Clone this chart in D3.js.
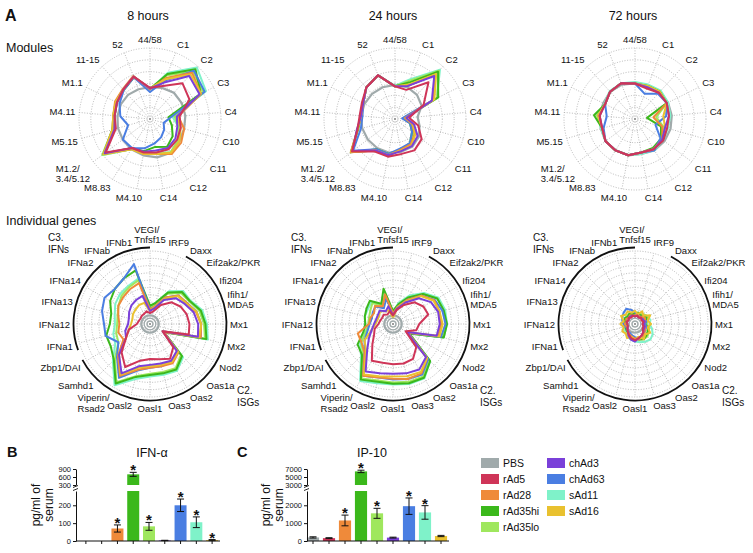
<!DOCTYPE html>
<html><head><meta charset="utf-8">
<script src="https://cdn.jsdelivr.net/npm/d3@7"></script>
<style>
body{margin:0;background:#fff;}
text{font-family:"Liberation Sans",Arial,Helvetica,sans-serif;fill:#111;}
</style></head><body>
<svg id="chart" width="753" height="553"></svg>
<script>
// ---------- DATA ----------
const seriesNames = ["PBS","rAd5","rAd28","rAd35hi","rAd35lo","chAd3","chAd63","sAd11","sAd16"];
const seriesColors = ["#a0aaab","#cf3558","#ef8a3a","#3bb81b","#9fe75e","#7a40d9","#4a7ee2","#7ff2c9","#e9c12f"];
const timepoints = ["8 hours","24 hours","72 hours"];
const moduleAxes = ["44/58","C1","C2","C3","C4","C10","C11","C12","C14","M4.10","M8.83","M1.2/\n3.4/5.12","M5.15","M4.11","M1.1","11-15","52"];
const geneAxes = ["VEGI/\nTnfsf15","IRF9","Daxx","Eif2ak2/PKR","Ifi204","Ifih1/\nMDA5","Mx1","Mx2","Nod2","Oas1a","Oas2","Oas3","Oasl1","Oasl2","Viperin/\nRsad2","Samhd1","Zbp1/DAI","IFNa1","IFNa12","IFNa13","IFNa14","IFNa2","IFNab","IFNb1"];

// module scores (fraction of outer ring), rows in seriesNames order
const modules8h = [
 [0.45,0.47,0.50,0.50,0.50,0.50,0.52,0.56,0.55,0.52,0.50,0.48,0.47,0.46,0.46,0.46,0.45],
 [0.44,0.50,0.68,0.62,0.42,0.45,0.48,0.50,0.48,0.48,0.48,0.78,0.50,0.50,0.52,0.56,0.64],
 [0.42,0.62,0.88,0.80,0.40,0.50,0.55,0.58,0.50,0.50,0.50,0.82,0.55,0.52,0.55,0.57,0.65],
 [0.42,0.68,0.95,0.80,0.26,0.32,0.40,0.46,0.40,0.46,0.48,0.82,0.55,0.50,0.52,0.55,0.63],
 [0.43,0.66,0.90,0.84,0.35,0.42,0.50,0.55,0.50,0.50,0.50,0.84,0.55,0.52,0.54,0.56,0.64],
 [0.43,0.55,0.82,0.78,0.38,0.40,0.45,0.48,0.45,0.47,0.48,0.80,0.52,0.50,0.52,0.56,0.64],
 [0.38,0.58,0.92,0.86,0.30,0.20,0.25,0.30,0.35,0.42,0.48,0.48,0.32,0.42,0.48,0.55,0.63],
 [0.42,0.70,0.98,0.88,0.32,0.42,0.50,0.55,0.48,0.48,0.50,0.84,0.55,0.52,0.54,0.56,0.64],
 [0.43,0.60,0.85,0.80,0.38,0.45,0.52,0.56,0.50,0.50,0.50,0.82,0.55,0.52,0.54,0.56,0.64]
];
const modules24h = [
 [0.48,0.48,0.46,0.42,0.32,0.36,0.42,0.46,0.47,0.48,0.48,0.48,0.48,0.48,0.48,0.48,0.48],
 [0.46,0.44,0.70,0.45,0.20,0.34,0.47,0.52,0.50,0.54,0.54,0.76,0.55,0.50,0.52,0.60,0.66],
 [0.46,0.50,0.85,0.60,0.14,0.25,0.35,0.42,0.44,0.52,0.52,0.78,0.55,0.48,0.50,0.60,0.66],
 [0.46,0.55,0.90,0.68,0.12,0.22,0.30,0.40,0.44,0.50,0.50,0.78,0.54,0.48,0.50,0.60,0.66],
 [0.46,0.58,0.92,0.66,0.14,0.24,0.32,0.42,0.44,0.52,0.52,0.77,0.55,0.48,0.50,0.60,0.66],
 [0.46,0.50,0.82,0.58,0.16,0.28,0.40,0.45,0.46,0.52,0.52,0.75,0.56,0.48,0.50,0.60,0.66],
 [0.46,0.50,0.84,0.60,0.10,0.22,0.30,0.40,0.42,0.50,0.50,0.74,0.50,0.46,0.50,0.60,0.66],
 [0.47,0.60,0.94,0.66,0.13,0.24,0.32,0.42,0.44,0.52,0.52,0.77,0.55,0.48,0.50,0.60,0.66],
 [0.46,0.52,0.86,0.62,0.15,0.26,0.36,0.44,0.45,0.52,0.52,0.77,0.55,0.48,0.50,0.60,0.66]
];
const modules72h = [
 [0.50,0.50,0.52,0.52,0.52,0.52,0.52,0.52,0.50,0.52,0.52,0.52,0.50,0.50,0.50,0.52,0.52],
 [0.50,0.46,0.50,0.50,0.48,0.47,0.50,0.50,0.48,0.52,0.52,0.52,0.48,0.50,0.47,0.52,0.54],
 [0.50,0.48,0.50,0.50,0.26,0.40,0.48,0.50,0.48,0.52,0.52,0.52,0.48,0.52,0.47,0.52,0.54],
 [0.50,0.50,0.52,0.50,0.17,0.38,0.46,0.48,0.48,0.52,0.52,0.52,0.48,0.58,0.47,0.52,0.54],
 [0.50,0.50,0.52,0.50,0.30,0.42,0.48,0.50,0.48,0.52,0.52,0.52,0.48,0.54,0.47,0.52,0.54],
 [0.50,0.48,0.50,0.50,0.48,0.44,0.48,0.50,0.48,0.52,0.52,0.52,0.48,0.50,0.47,0.52,0.54],
 [0.50,0.38,0.48,0.50,0.44,0.30,0.45,0.52,0.48,0.52,0.52,0.52,0.46,0.40,0.47,0.52,0.54],
 [0.52,0.52,0.54,0.52,0.50,0.48,0.50,0.52,0.50,0.52,0.52,0.52,0.50,0.52,0.48,0.53,0.54],
 [0.50,0.50,0.52,0.50,0.40,0.44,0.48,0.50,0.48,0.52,0.52,0.52,0.48,0.52,0.47,0.52,0.54]
];
// individual gene scores
const genes8h = [
 [0.12,0.12,0.12,0.12,0.12,0.12,0.12,0.12,0.12,0.12,0.12,0.12,0.12,0.12,0.12,0.12,0.12,0.12,0.12,0.12,0.12,0.12,0.12,0.12],
 [0.15,0.18,0.30,0.42,0.48,0.52,0.54,0.55,0.20,0.45,0.55,0.50,0.48,0.52,0.68,0.55,0.38,0.30,0.18,0.16,0.15,0.16,0.16,0.18],
 [0.20,0.25,0.42,0.55,0.58,0.65,0.70,0.72,0.22,0.55,0.62,0.60,0.60,0.65,0.82,0.62,0.42,0.45,0.42,0.45,0.50,0.52,0.55,0.58],
 [0.25,0.30,0.50,0.62,0.63,0.72,0.76,0.80,0.22,0.62,0.72,0.70,0.70,0.75,0.94,0.70,0.62,0.62,0.55,0.55,0.63,0.68,0.72,0.76],
 [0.22,0.28,0.48,0.60,0.62,0.70,0.74,0.78,0.22,0.60,0.70,0.68,0.68,0.74,0.92,0.68,0.50,0.48,0.45,0.46,0.50,0.55,0.58,0.62],
 [0.18,0.22,0.38,0.50,0.55,0.62,0.66,0.68,0.20,0.52,0.58,0.56,0.56,0.60,0.78,0.60,0.38,0.35,0.30,0.30,0.33,0.36,0.38,0.40],
 [0.20,0.25,0.42,0.55,0.58,0.66,0.70,0.72,0.22,0.55,0.60,0.60,0.60,0.66,0.85,0.64,0.50,0.63,0.63,0.68,0.72,0.68,0.72,0.85],
 [0.24,0.30,0.52,0.64,0.64,0.74,0.78,0.82,0.22,0.64,0.74,0.72,0.72,0.78,0.97,0.72,0.55,0.52,0.48,0.50,0.55,0.58,0.60,0.64],
 [0.18,0.24,0.40,0.54,0.57,0.66,0.70,0.70,0.20,0.54,0.60,0.58,0.58,0.62,0.80,0.60,0.38,0.30,0.26,0.25,0.27,0.28,0.30,0.30]
];
const genes24h = [
 [0.12,0.12,0.12,0.12,0.12,0.12,0.12,0.12,0.12,0.12,0.12,0.12,0.12,0.12,0.12,0.12,0.12,0.12,0.12,0.12,0.12,0.12,0.12,0.12],
 [0.12,0.20,0.30,0.42,0.48,0.50,0.36,0.33,0.20,0.45,0.55,0.56,0.55,0.55,0.58,0.40,0.30,0.26,0.20,0.18,0.17,0.18,0.15,0.18],
 [0.15,0.24,0.38,0.55,0.65,0.66,0.66,0.64,0.24,0.66,0.78,0.78,0.75,0.76,0.82,0.55,0.50,0.50,0.33,0.32,0.30,0.35,0.28,0.42],
 [0.18,0.28,0.42,0.58,0.70,0.72,0.74,0.72,0.26,0.72,0.85,0.84,0.82,0.82,0.88,0.60,0.56,0.42,0.38,0.40,0.42,0.45,0.32,0.50],
 [0.16,0.27,0.42,0.58,0.70,0.72,0.72,0.70,0.25,0.70,0.83,0.82,0.80,0.80,0.86,0.58,0.50,0.38,0.34,0.34,0.36,0.40,0.30,0.42],
 [0.12,0.22,0.34,0.50,0.60,0.64,0.64,0.62,0.22,0.64,0.72,0.70,0.68,0.70,0.75,0.50,0.38,0.30,0.26,0.24,0.24,0.26,0.20,0.25],
 [0.14,0.24,0.38,0.55,0.66,0.70,0.72,0.68,0.24,0.68,0.80,0.78,0.76,0.76,0.82,0.55,0.45,0.36,0.32,0.30,0.32,0.34,0.25,0.36],
 [0.17,0.30,0.45,0.60,0.72,0.74,0.74,0.72,0.26,0.72,0.86,0.85,0.83,0.84,0.90,0.62,0.52,0.40,0.38,0.40,0.40,0.42,0.30,0.40],
 [0.08,0.24,0.36,0.54,0.64,0.66,0.68,0.66,0.22,0.66,0.76,0.74,0.72,0.74,0.80,0.52,0.45,0.30,0.24,0.22,0.22,0.25,0.20,0.20]
];
const genes72h = [
 [0.12,0.12,0.12,0.12,0.12,0.12,0.12,0.12,0.12,0.12,0.12,0.12,0.12,0.12,0.12,0.12,0.12,0.12,0.12,0.12,0.12,0.12,0.12,0.12],
 [0.10,0.12,0.10,0.12,0.10,0.12,0.10,0.12,0.12,0.16,0.18,0.20,0.22,0.20,0.17,0.14,0.12,0.10,0.10,0.12,0.10,0.12,0.10,0.12],
 [0.12,0.14,0.12,0.14,0.16,0.14,0.12,0.14,0.16,0.18,0.20,0.22,0.20,0.18,0.16,0.14,0.12,0.12,0.14,0.12,0.14,0.12,0.14,0.12],
 [0.14,0.16,0.14,0.16,0.18,0.16,0.14,0.18,0.20,0.22,0.24,0.22,0.20,0.18,0.16,0.15,0.14,0.14,0.12,0.14,0.16,0.14,0.16,0.14],
 [0.14,0.16,0.16,0.18,0.20,0.18,0.16,0.20,0.22,0.24,0.24,0.22,0.20,0.18,0.16,0.15,0.14,0.14,0.14,0.14,0.16,0.15,0.16,0.14],
 [0.10,0.12,0.10,0.12,0.12,0.14,0.12,0.14,0.14,0.16,0.18,0.20,0.24,0.22,0.18,0.14,0.12,0.10,0.10,0.12,0.10,0.12,0.12,0.12],
 [0.16,0.14,0.12,0.14,0.14,0.16,0.14,0.16,0.16,0.18,0.20,0.20,0.18,0.16,0.14,0.14,0.12,0.14,0.16,0.18,0.20,0.22,0.24,0.20],
 [0.14,0.16,0.16,0.18,0.20,0.22,0.20,0.24,0.28,0.30,0.28,0.26,0.24,0.22,0.20,0.18,0.16,0.14,0.14,0.14,0.16,0.16,0.16,0.14],
 [0.18,0.14,0.20,0.16,0.24,0.18,0.22,0.18,0.24,0.20,0.24,0.18,0.22,0.18,0.22,0.18,0.20,0.16,0.20,0.16,0.22,0.18,0.20,0.16]
];

// serum cytokines (pg/ml), mean and error
const ifnaValues = [0, 0, 70, 700, 82, 3, 200, 105, 5];
const ifnaErrors = [0, 0, 20, 75, 22, 1, 35, 30, 3];
const ifnaStars  = [false,false,true,true,true,false,true,true,true];
const ifnaLowTicks = [0,100,200];
const ifnaUpTicks = [300,600,900];
const ip10Values = [200, 160, 1150, 6400, 1550, 190, 1950, 1600, 280];
const ip10Errors = [35, 25, 300, 300, 280, 25, 460, 380, 35];
const ip10Stars  = [false,false,true,true,true,false,true,true,false];
const ip10LowTicks = [0,1000,2000];
const ip10UpTicks = [3000,5000,7000];

// ---------- DRAWING ----------
const svg = d3.select("#chart");
const drawOrder = [0,7,4,3,6,2,8,5,1];

function radar(cx, cy, R, axes, data, nRings, labelR, fs) {
  const n = axes.length;
  const ang = i => i * 2 * Math.PI / n;
  const r = d3.scaleLinear().domain([0, 1]).range([0, R]);
  const G = svg.append("g").attr("transform", `translate(${cx},${cy})`);
  G.selectAll("circle.ring").data(d3.range(1, nRings + 1).map(k => k / nRings)).join("circle")
    .attr("class","ring").attr("r", d => r(d)).attr("fill", "none")
    .attr("stroke", "#9c9c9c").attr("stroke-width", 0.7).attr("stroke-dasharray", "1,1.6");
  G.selectAll("line.spoke").data(axes).join("line").attr("class","spoke")
    .attr("x1", 0).attr("y1", 0)
    .attr("x2", (d, i) => R * Math.sin(ang(i))).attr("y2", (d, i) => -R * Math.cos(ang(i)))
    .attr("stroke", "#9c9c9c").attr("stroke-width", 0.7).attr("stroke-dasharray", "1,1.6");
  const line = d3.lineRadial().angle((d, i) => ang(i)).radius(d => r(d)).curve(d3.curveLinearClosed);
  drawOrder.forEach(si => {
    G.append("path").attr("d", line(data[si])).attr("fill", "none")
      .attr("stroke", seriesColors[si]).attr("stroke-width", si === 0 ? 2.2 : 2)
      .attr("stroke-linejoin", "round");
  });
  axes.forEach((lab, i) => {
    const a = ang(i), s = Math.sin(a), c = Math.cos(a);
    const px = labelR * s, py = -labelR * c;
    const t = G.append("text").attr("font-size", fs);
    lab.split("\n").forEach((ln, j) => t.append("tspan").attr("x", 0).attr("dy", j ? fs * 1.1 : 0).text(ln));
    const bb = t.node().getBBox();
    const fx = Math.max(-1, Math.min(1, s * 3)), fy = Math.max(-1, Math.min(1, c * 1.6));
    const bcx = px + fx * bb.width / 2, bcy = py - fy * (bb.height - 2) / 2;
    t.attr("transform", `translate(${bcx - (bb.x + bb.width / 2)},${bcy - (bb.y + bb.height / 2)})`);
  });
  return G;
}

function geneRadar(cx, cy, data) {
  const R = 73;
  const G = radar(cx, cy, R, geneAxes, data, 10, 80, 9.5);
  [0.04, 0.08].forEach(f => G.append("circle").attr("r", f * R).attr("fill", "none").attr("stroke", "#a0aaab").attr("stroke-width", 1.2));
  const arcR = 76.5;
  const deg = Math.PI / 180;
  [[28, 242], [250, 360]].forEach(([a0, a1]) => {
    const p = d3.path();
    p.arc(0, 0, arcR, (a0 - 90) * deg, (a1 - 90) * deg);
    G.append("path").attr("d", p.toString()).attr("fill", "none").attr("stroke", "#111").attr("stroke-width", 1.8);
  });
  const t3 = G.append("text").attr("font-size", 10);
  t3.append("tspan").attr("x", -102).attr("y", -83).text("C3.");
  t3.append("tspan").attr("x", -102).attr("y", -71).text("IFNs");
  const t2 = G.append("text").attr("font-size", 10);
  t2.append("tspan").attr("x", 87).attr("y", 70).text("C2.");
  t2.append("tspan").attr("x", 87).attr("y", 82).text("ISGs");
}

const colX = [150, 395, 635];
const moduleData = [modules8h, modules24h, modules72h];
const geneData = [genes8h, genes24h, genes72h];
timepoints.forEach((tp, k) => {
  svg.append("text").attr("x", colX[k] - 2).attr("y", 20).attr("text-anchor", "middle").attr("font-size", 12.5).text(tp);
  radar(colX[k], 119, 71, moduleAxes, moduleData[k], 6, 75, 9.5);
  geneRadar(colX[k] - (k === 1 ? 2 : 0), 324, geneData[k]);
});

svg.append("text").attr("x", 5).attr("y", 21).attr("font-size", 16).attr("font-weight", "bold").text("A");
svg.append("text").attr("x", 6).attr("y", 52).attr("font-size", 12.5).text("Modules");
svg.append("text").attr("x", 6).attr("y", 225).attr("font-size", 12.5).text("Individual genes");

// ---------- BAR CHARTS ----------
function barChart(o) {
  const G = svg.append("g");
  const x = d3.scaleBand().domain(seriesNames).range([o.x0, o.x1]).paddingInner(0.24).paddingOuter(0.12);
  const yLow = d3.scaleLinear().domain([0, o.lowMax]).range([541, 491]);
  const yUp = d3.scaleLinear().domain([o.upTicks[0], o.upTicks[o.upTicks.length - 1]]).range([485, 469]);
  const yOf = v => v <= o.lowMax ? yLow(v) : yUp(v);
  o.values.forEach((v, i) => {
    const bx = x(seriesNames[i]), bw = x.bandwidth();
    if (v <= o.lowMax) {
      G.append("rect").attr("x", bx).attr("width", bw).attr("y", yLow(v)).attr("height", 541 - yLow(v)).attr("fill", seriesColors[i]);
    } else {
      G.append("rect").attr("x", bx).attr("width", bw).attr("y", yLow(o.lowMax)).attr("height", 541 - yLow(o.lowMax)).attr("fill", seriesColors[i]);
      G.append("rect").attr("x", bx).attr("width", bw).attr("y", yUp(v)).attr("height", yUp(o.upTicks[0]) - yUp(v)).attr("fill", seriesColors[i]);
    }
    const e = o.errors[i];
    const cx = bx + bw / 2;
    if (e > 0 && v > 0) {
      const yt = yOf(v + e), yb = yOf(Math.max(0, v - e));
      G.append("line").attr("x1", cx).attr("x2", cx).attr("y1", yt).attr("y2", yb).attr("stroke", "#111").attr("stroke-width", 1);
      [yt, yb].forEach(yy => G.append("line").attr("x1", cx - 3.5).attr("x2", cx + 3.5).attr("y1", yy).attr("y2", yy).attr("stroke", "#111").attr("stroke-width", 1));
    }
    if (o.stars[i]) {
      G.append("text").attr("x", cx).attr("y", yOf(v + e) + 3).attr("text-anchor", "middle").attr("font-size", 15).attr("font-weight", "bold").text("*");
    }
  });
  const fmt = d3.format("d");
  const aLow = G.append("g").attr("transform", `translate(${o.axisX},0)`).call(d3.axisLeft(yLow).tickValues(o.lowTicks).tickFormat(fmt).tickSize(3).tickSizeOuter(0).tickPadding(2));
  const aUp = G.append("g").attr("transform", `translate(${o.axisX},0)`).call(d3.axisLeft(yUp).tickValues(o.upTicks).tickFormat(fmt).tickSize(3).tickSizeOuter(0).tickPadding(2));
  [aLow, aUp].forEach(a => { a.selectAll("text").attr("font-size", 7.5).attr("fill", "#111"); a.selectAll("path,line").attr("stroke", "#111"); });
  [489.5, 486.5].forEach(yy => G.append("line").attr("x1", o.axisX - 3).attr("x2", o.axisX + 2).attr("y1", yy + 1).attr("y2", yy - 1).attr("stroke", "#111").attr("stroke-width", 0.9));
  G.append("line").attr("x1", o.axisX).attr("x2", o.x1).attr("y1", 541).attr("y2", 541).attr("stroke", "#111").attr("stroke-width", 1);
  seriesNames.forEach(nm => {
    const cx = x(nm) + x.bandwidth() / 2;
    G.append("line").attr("x1", cx).attr("x2", cx).attr("y1", 541).attr("y2", 544).attr("stroke", "#111").attr("stroke-width", 1);
  });
  svg.append("text").attr("x", o.titleX).attr("y", 457).attr("text-anchor", "middle").attr("font-size", 12.5).text(o.title);
  svg.append("text").attr("x", o.letterX).attr("y", 457).attr("font-size", 14.5).attr("font-weight", "bold").text(o.letter);
  svg.append("text").attr("transform", `translate(${o.labX},505) rotate(-90)`).attr("text-anchor", "middle").attr("font-size", 12).text("pg/ml of");
  svg.append("text").attr("transform", `translate(${o.labX + 13},505) rotate(-90)`).attr("text-anchor", "middle").attr("font-size", 12).text("serum");
}

barChart({x0: 78, x1: 220, axisX: 76, lowMax: 280, values: ifnaValues, errors: ifnaErrors, stars: ifnaStars,
  lowTicks: ifnaLowTicks, upTicks: ifnaUpTicks, title: "IFN-α", titleX: 152, letter: "B", letterX: 7, labX: 40});
barChart({x0: 305, x1: 449, axisX: 307, lowMax: 2800, values: ip10Values, errors: ip10Errors, stars: ip10Stars,
  lowTicks: ip10LowTicks, upTicks: ip10UpTicks, title: "IP-10", titleX: 372, letter: "C", letterX: 237, labX: 270});

// ---------- LEGEND ----------
const L = svg.append("g");
seriesNames.forEach((nm, i) => {
  const col = i < 5 ? 0 : 1, row = i < 5 ? i : i - 5;
  const lx = col ? 547 : 481, ly = 463 + row * 16;
  L.append("rect").attr("x", lx).attr("y", ly - 5).attr("width", 18).attr("height", 10).attr("fill", seriesColors[i]);
  L.append("text").attr("x", lx + 22).attr("y", ly + 4).attr("font-size", 10.5).text(nm);
});
</script>
</body></html>
